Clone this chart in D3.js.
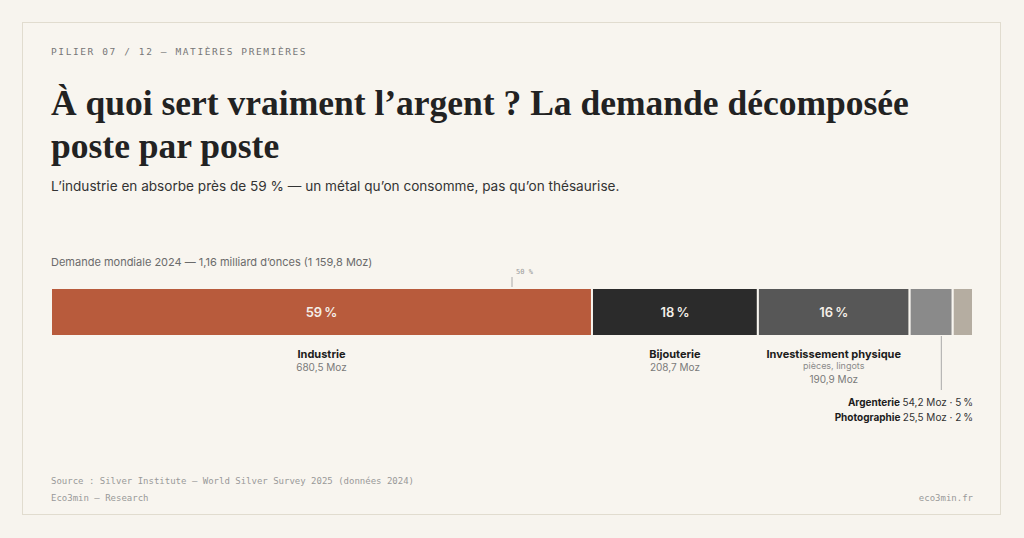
<!DOCTYPE html>
<html>
<head>
<meta charset="utf-8">
<script src="https://cdn.jsdelivr.net/npm/d3@7"></script>
<style>
  html, body { margin: 0; padding: 0; background: #f7f4ee; }
  svg { display: block; }
</style>
</head>
<body>
<div id="chart"></div>
<script>
"use strict"

// postes de demande, en millions d'onces (Moz)
let categories = ["Industrie", "Bijouterie", "Investissement physique", "Argenterie", "Photographie"];
let values = [680.5, 208.7, 190.9, 54.2, 25.5];
let shares = [59, 18, 16, 5, 2];
let valueLabels = ["680,5 Moz", "208,7 Moz", "190,9 Moz", "54,2 Moz", "25,5 Moz"];
let subLabels = ["", "", "pièces, lingots", "", ""];
let colors = ["#b85b3c", "#2b2b2b", "#575757", "#8a8a8a", "#b5ada1"];
let markerShare = [50];

let width = 1024;
let height = 538;

let sans = "Inter, 'Noto Sans', sans-serif";
let serif = "'Liberation Serif', 'DejaVu Serif', serif";
let mono = "'DejaVu Sans Mono', 'Liberation Mono', monospace";

let total = d3.sum(values);
let starts = [0].concat(Array.from(d3.cumsum(values)).slice(0, -1));

let x = d3.scaleLinear()
    .domain([0, total])
    .range([51, 973]);

let barTop = 288;
let barHeight = 48;

let svg = d3.select("#chart")
    .append("svg")
    .attr("width", width)
    .attr("height", height);

// the card
svg.append("rect")
    .attr("x", 22.5)
    .attr("y", 22.5)
    .attr("width", 978)
    .attr("height", 492)
    .attr("fill", "#f8f5ef")
    .attr("stroke", "#e1dccf");

// header
svg.append("text")
    .attr("x", 51)
    .attr("y", 55)
    .attr("font-family", mono)
    .attr("font-size", 9.5)
    .attr("letter-spacing", 1.6)
    .attr("fill", "#777")
    .text("PILIER 07 / 12 — MATIÈRES PREMIÈRES");

let title = svg.append("text")
    .attr("font-family", serif)
    .attr("font-size", 35.5)
    .attr("font-weight", 700)
    .attr("fill", "#222");
title.append("tspan").attr("x", 51).attr("y", 115)
    .text("À quoi sert vraiment l’argent ? La demande décomposée");
title.append("tspan").attr("x", 51).attr("y", 158)
    .text("poste par poste");

svg.append("text")
    .attr("x", 51)
    .attr("y", 191)
    .attr("font-family", sans)
    .attr("font-size", 13.6)
    .attr("fill", "#333")
    .text("L’industrie en absorbe près de 59 % — un métal qu’on consomme, pas qu’on thésaurise.");

svg.append("text")
    .attr("x", 51)
    .attr("y", 266)
    .attr("font-family", sans)
    .attr("font-size", 11)
    .attr("fill", "#6b6b6b")
    .text("Demande mondiale 2024 — 1,16 milliard d’onces (1 159,8 Moz)");

// 50 % marker
let marker = svg.selectAll(".marker")
    .data(markerShare)
    .enter()
    .append("g")
    .attr("class", "marker");
marker.append("line")
    .attr("x1", d => x(total * d / 100))
    .attr("x2", d => x(total * d / 100))
    .attr("y1", 277)
    .attr("y2", barTop)
    .attr("stroke", "#aaa")
    .attr("stroke-width", 1);
marker.append("text")
    .attr("x", d => x(total * d / 100) + 4)
    .attr("y", 274)
    .attr("font-family", mono)
    .attr("font-size", 7)
    .attr("fill", "#999")
    .text(d => d + " %");

// the stacked bar
let segs = svg.selectAll(".seg")
    .data(categories.map((c, i) => ({ name: c, i: i })))
    .enter()
    .append("g")
    .attr("class", "seg");

segs.append("rect")
    .attr("x", d => x(starts[d.i]))
    .attr("y", barTop)
    .attr("width", d => x(starts[d.i] + values[d.i]) - x(starts[d.i]))
    .attr("height", barHeight)
    .attr("fill", d => colors[d.i])
    .attr("stroke", "#f8f5ef")
    .attr("stroke-width", 2);

let mid = d => (x(starts[d.i]) + x(starts[d.i] + values[d.i])) / 2;
let big = segs.filter(d => d.i < 3);

big.append("text")
    .attr("x", mid)
    .attr("y", barTop + barHeight / 2 + 5)
    .attr("text-anchor", "middle")
    .attr("font-family", sans)
    .attr("font-size", 13)
    .attr("font-weight", 600)
    .attr("fill", "#f4efe8")
    .text(d => shares[d.i] + "\u202f%");

big.append("text")
    .attr("x", mid)
    .attr("y", 358)
    .attr("text-anchor", "middle")
    .attr("font-family", sans)
    .attr("font-size", 11)
    .attr("font-weight", 700)
    .attr("fill", "#1c1c1c")
    .text(d => d.name);

big.filter(d => subLabels[d.i] !== "")
    .append("text")
    .attr("x", mid)
    .attr("y", 369)
    .attr("text-anchor", "middle")
    .attr("font-family", sans)
    .attr("font-size", 9)
    .attr("fill", "#8a8a8a")
    .text(d => subLabels[d.i]);

big.append("text")
    .attr("x", mid)
    .attr("y", d => subLabels[d.i] !== "" ? 383 : 371)
    .attr("text-anchor", "middle")
    .attr("font-family", sans)
    .attr("font-size", 10)
    .attr("fill", "#7a7a7a")
    .text(d => valueLabels[d.i]);

// small posts: one leader line from their shared span, notes right aligned
let small = categories.map((c, i) => ({ name: c, i: i })).filter(d => d.i >= 3);
let smallMid = (x(starts[small[0].i]) + x(total)) / 2;

svg.append("line")
    .attr("x1", smallMid)
    .attr("x2", smallMid)
    .attr("y1", barTop + barHeight)
    .attr("y2", 390)
    .attr("stroke", "#aaa")
    .attr("stroke-width", 1);

let notes = svg.selectAll(".note")
    .data(small)
    .enter()
    .append("text")
    .attr("class", "note")
    .attr("x", x(total))
    .attr("y", (d, k) => 406 + k * 15)
    .attr("text-anchor", "end")
    .attr("font-family", sans)
    .attr("font-size", 10)
    .attr("fill", "#333");
notes.append("tspan")
    .attr("font-weight", 700)
    .attr("fill", "#1c1c1c")
    .text(d => d.name + " ");
notes.append("tspan")
    .text(d => valueLabels[d.i] + " · " + shares[d.i] + "\u202f%");

// footer
svg.append("text")
    .attr("x", 51)
    .attr("y", 484)
    .attr("font-family", mono)
    .attr("font-size", 9)
    .attr("fill", "#999")
    .text("Source : Silver Institute — World Silver Survey 2025 (données 2024)");

svg.append("text")
    .attr("x", 51)
    .attr("y", 501)
    .attr("font-family", mono)
    .attr("font-size", 9)
    .attr("fill", "#999")
    .text("Eco3min — Research");

svg.append("text")
    .attr("x", 973)
    .attr("y", 501)
    .attr("text-anchor", "end")
    .attr("font-family", mono)
    .attr("font-size", 9)
    .attr("fill", "#999")
    .text("eco3min.fr");
</script>
</body>
</html>
